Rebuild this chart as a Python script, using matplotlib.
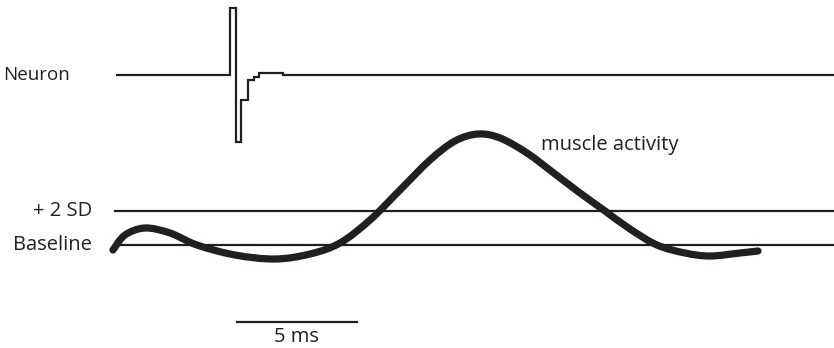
import matplotlib.pyplot as plt
from matplotlib.path import Path
from matplotlib.patches import PathPatch

# time axis in samples (24 kHz, so 24 samples = 1 ms), spike onset at 0
neuron_t = [-113, 0, 0, 6, 6, 11, 11, 18, 18, 24, 24, 29, 29, 53, 53, 604]
neuron_v = [0, 0, 67, 67, -67, -67, -25, -25, -5, -5, -2, -2, 2, 2, 0.5, 0.5]

# EMG envelope along the trace
muscle_t = [-117, -105, -85, -60, -33, 5, 45, 80, 110, 140, 170, 200, 225,
            248, 270, 297, 325, 350, 375, 400, 427, 455, 480, 510, 528]
muscle_v = [-5, 10, 17, 12, 0, -10, -14, -9, 2, 25, 55, 85, 104,
            111, 107, 92, 71, 52, 34, 16, 0, -8, -11, -8, -6]

sd_level = 34          # +2 SD threshold above baseline
scale_ms = 5
samples_per_ms = 24

ink = '#231f20'
font = ['Open Sans', 'DejaVu Sans']
fs = 14.5

neuron_y0 = 273
muscle_y0 = 103


def smooth_path(xs, ys):
    # Catmull-Rom through the points, written as cubic Bezier segments
    pts = list(zip(xs, ys))
    verts = [pts[0]]
    codes = [Path.MOVETO]
    for i in range(len(pts) - 1):
        p0 = pts[i - 1] if i > 0 else pts[i]
        p1 = pts[i]
        p2 = pts[i + 1]
        p3 = pts[i + 2] if i + 2 < len(pts) else pts[i + 1]
        c1 = (p1[0] + (p2[0] - p0[0]) / 6, p1[1] + (p2[1] - p0[1]) / 6)
        c2 = (p2[0] - (p3[0] - p1[0]) / 6, p2[1] - (p3[1] - p1[1]) / 6)
        verts += [c1, c2, p2]
        codes += [Path.CURVE4] * 3
    return Path(verts, codes)


fig = plt.figure(figsize=(8.34, 3.48), dpi=100)
ax = fig.add_axes([0, 0, 1, 1])
ax.set_xlim(-230, 604)
ax.set_ylim(0, 348)
ax.axis('off')

# neuron trace
ax.plot(neuron_t, [neuron_y0 + v for v in neuron_v], color=ink, lw=1.6,
        solid_joinstyle='miter')

# baseline and threshold lines
ax.plot([-115, 604], [muscle_y0, muscle_y0], color=ink, lw=1.6)
ax.plot([-115, 604], [muscle_y0 + sd_level, muscle_y0 + sd_level], color=ink, lw=1.6)

# muscle activity trace
muscle_path = smooth_path(muscle_t, [muscle_y0 + v for v in muscle_v])
ax.add_patch(PathPatch(muscle_path, facecolor='none', edgecolor=ink, lw=5.2,
                       capstyle='round', joinstyle='round'))

# labels
ax.text(-227, neuron_y0, 'Neuron', ha='left', va='center', fontsize=fs - 1,
        color=ink, family=font)
ax.text(-138, muscle_y0 + sd_level, '+ 2 SD', ha='right', va='center',
        fontsize=fs, color=ink, family=font)
ax.text(-138, muscle_y0, 'Baseline', ha='right', va='center', fontsize=fs,
        color=ink, family=font)
ax.text(311, 203, 'muscle activity', ha='left', va='center', fontsize=fs,
        color=ink, family=font)

# scale bar
bar_x0 = 7
ax.plot([bar_x0, bar_x0 + scale_ms * samples_per_ms], [26, 26], color=ink, lw=1.6)
ax.text(bar_x0 + scale_ms * samples_per_ms / 2, 11, f'{scale_ms} ms', ha='center',
        va='center', fontsize=fs, color=ink, family=font)

fig.savefig('out.png', dpi=100)
